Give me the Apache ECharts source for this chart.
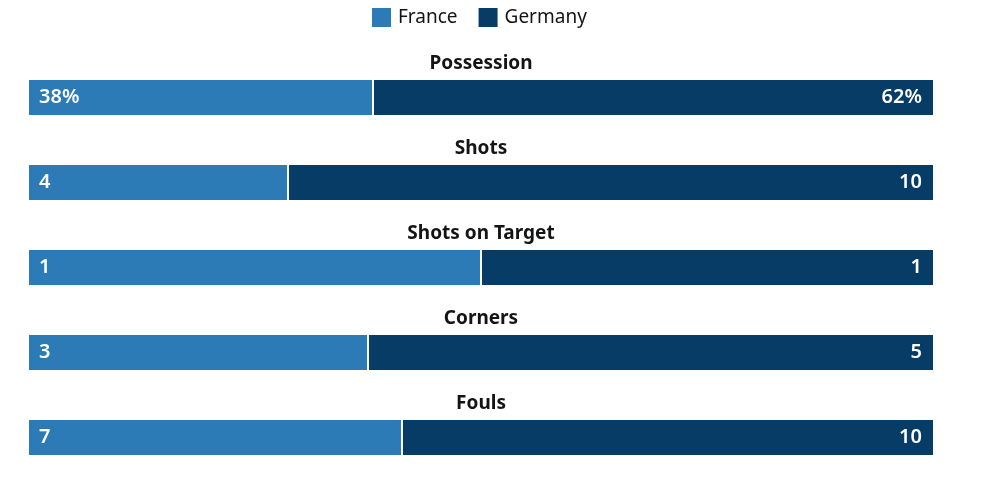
<!DOCTYPE html>
<html><head><meta charset="utf-8">
<script src="https://cdn.jsdelivr.net/npm/echarts@6/dist/echarts.min.js"></script>
<style>html,body{margin:0;padding:0;background:#fff}#c{width:1001px;height:481px}</style>
</head><body><div id="c"></div>
<script>
const categories = ['Possession', 'Shots', 'Shots on Target', 'Corners', 'Fouls'];
const suffixes = ['%', '', '', '', ''];
const france = [38, 4, 1, 3, 7];
const germany = [62, 10, 1, 5, 10];
const teams = ['France', 'Germany'];
const colors = ['#2c7bb6', '#063c66'];

const font = '"Noto Sans", "Open Sans", sans-serif';
const grids = [], xAxes = [], yAxes = [], series = [], titles = [];
categories.forEach((cat, i) => {
  const total = france[i] + germany[i];
  const fp = france[i] / total * 100;
  const gp = germany[i] / total * 100;
  const top = 80 + 85 * i;
  grids.push({ left: 29, right: 68, top: top, height: 35 });
  xAxes.push({ gridIndex: i, type: 'value', min: 0, max: 100, show: false });
  yAxes.push({ gridIndex: i, type: 'category', data: [cat], show: false });
  titles.push({ text: cat, left: 481, textAlign: 'center', top: top - 30, padding: 0,
    textStyle: { fontFamily: font, fontSize: 19, fontWeight: 'bold', color: '#141414', lineHeight: 28 } });
  series.push({
    name: teams[0], type: 'bar', stack: 's' + i, xAxisIndex: i, yAxisIndex: i,
    barWidth: '100%', data: [{ value: fp, raw: france[i] + suffixes[i] }],
    itemStyle: { color: colors[0] },
    label: { show: true, position: 'insideLeft', distance: 10, formatter: p => p.data.raw,
      color: '#fff', fontFamily: font, fontSize: 20, fontWeight: 600 },
    markLine: { silent: true, symbol: 'none', label: { show: false },
      lineStyle: { color: '#fff', width: 2, type: 'solid' }, data: [{ xAxis: fp }], animation: false },
    animation: false
  });
  series.push({
    name: teams[1], type: 'bar', stack: 's' + i, xAxisIndex: i, yAxisIndex: i,
    barWidth: '100%', data: [{ value: gp, raw: germany[i] + suffixes[i] }],
    itemStyle: { color: colors[1] },
    label: { show: true, position: 'insideRight', distance: 11, formatter: p => p.data.raw,
      color: '#fff', fontFamily: font, fontSize: 20, fontWeight: 600 },
    animation: false
  });
});

const chart = echarts.init(document.getElementById('c'));
chart.setOption({
  animation: false,
  color: colors,
  title: titles,
  legend: { data: teams, left: 372, top: 8, padding: 0, itemWidth: 19, itemHeight: 19, itemGap: 21,
    icon: 'rect', textStyle: { fontFamily: font, fontSize: 19, color: '#141414', padding: [0, 0, 0, 2] } },
  grid: grids, xAxis: xAxes, yAxis: yAxes, series: series
});
</script></body></html>
